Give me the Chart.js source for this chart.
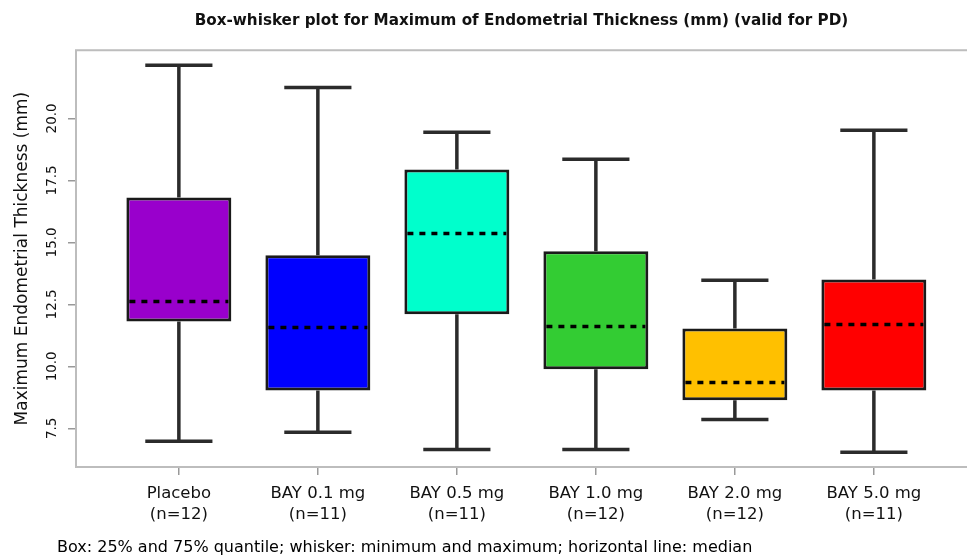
<!DOCTYPE html>
<html>
<head>
<meta charset="utf-8">
<script src="https://cdn.jsdelivr.net/npm/chart.js@4.4.1/dist/chart.umd.min.js"></script>
<style>
  html, body { margin: 0; padding: 0; background: #fff; }
  #wrap { width: 967px; height: 559px; }
</style>
</head>
<body>
<div id="wrap"><canvas id="boxChart" width="967" height="559"></canvas></div>
<script>
// Gruppen und Werte
const categories = ['Placebo', 'BAY 0.1 mg', 'BAY 0.5 mg', 'BAY 1.0 mg', 'BAY 2.0 mg', 'BAY 5.0 mg'];
const groupSizes = ['(n=12)', '(n=11)', '(n=11)', '(n=12)', '(n=12)', '(n=11)'];
const minimums = [6.98, 7.34, 6.65, 6.65, 7.86, 6.53];
const quartile1 = [11.81, 9.03, 12.10, 9.88, 8.63, 9.03];
const medians = [12.62, 11.57, 15.36, 11.61, 9.35, 11.69];
const quartile3 = [16.81, 14.48, 17.94, 14.64, 11.53, 13.50];
const maximums = [22.14, 21.25, 19.44, 18.35, 13.47, 19.52];
const boxColors = ['#9900CC', '#0000FF', '#00FFCC', '#33CC33', '#FFC000', '#FF0000'];
const yTicks = [7.5, 10.0, 12.5, 15.0, 17.5, 20.0];

const footnote = 'Box: 25% and 75% quantile; whisker: minimum and maximum; horizontal line: median';

// Whisker, Median, Rahmen und Fußnote zeichnen
const boxPlotExtras = {
    id: 'boxPlotExtras',
    afterDatasetsDraw(chart) {
        const { ctx, chartArea, scales: { x, y } } = chart;
        const bars = chart.getDatasetMeta(0).data;
        ctx.save();
        bars.forEach((bar, i) => {
            const cx = x.getPixelForValue(i + 1);
            const half = bar.width / 2;
            const cap = bar.width * 0.32;
            // Whisker
            ctx.strokeStyle = '#2b2b2b';
            ctx.lineWidth = 3.5;
            ctx.setLineDash([]);
            ctx.beginPath();
            ctx.moveTo(cx, y.getPixelForValue(quartile3[i]));
            ctx.lineTo(cx, y.getPixelForValue(maximums[i]));
            ctx.moveTo(cx, y.getPixelForValue(quartile1[i]));
            ctx.lineTo(cx, y.getPixelForValue(minimums[i]));
            ctx.moveTo(cx - cap, y.getPixelForValue(maximums[i]));
            ctx.lineTo(cx + cap, y.getPixelForValue(maximums[i]));
            ctx.moveTo(cx - cap, y.getPixelForValue(minimums[i]));
            ctx.lineTo(cx + cap, y.getPixelForValue(minimums[i]));
            ctx.stroke();
            // Median gestrichelt
            ctx.strokeStyle = '#000';
            ctx.lineWidth = 3.5;
            ctx.setLineDash([6, 6]);
            ctx.beginPath();
            const my = y.getPixelForValue(medians[i]);
            ctx.moveTo(cx - half + 3, my);
            ctx.lineTo(cx + half - 3, my);
            ctx.stroke();
        });
        // Rahmen
        ctx.setLineDash([]);
        ctx.strokeStyle = '#bdbdbd';
        ctx.lineWidth = 2;
        ctx.strokeRect(chartArea.left, chartArea.top, chartArea.right - chartArea.left + 10, chartArea.bottom - chartArea.top);
        // Fußnote
        ctx.fillStyle = '#000';
        ctx.font = '16px "DejaVu Sans"';
        ctx.textBaseline = 'middle';
        ctx.fillText(footnote, 57, 548);
        ctx.restore();
    }
};

const ctx = document.getElementById('boxChart').getContext('2d');
new Chart(ctx, {
    type: 'bar',
    data: {
        datasets: [{
            data: categories.map((c, i) => ({ x: i + 1, y: [quartile1[i], quartile3[i]] })),
            backgroundColor: boxColors,
            borderColor: '#1a1a1a',
            borderWidth: 3,
            borderSkipped: false,
            categoryPercentage: 1,
            barPercentage: 0.755
        }]
    },
    options: {
        responsive: false,
        animation: false,
        layout: { padding: 0 },
        plugins: {
            legend: { display: false },
            tooltip: { enabled: false },
            title: {
                display: true,
                fullSize: false,
                text: 'Box-whisker plot for Maximum of Endometrial Thickness (mm) (valid for PD)',
                color: '#111',
                font: { family: 'DejaVu Sans', size: 15.2, weight: 'bold', lineHeight: 1.2 },
                padding: { top: 12, bottom: 20 }
            }
        },
        scales: {
            x: {
                type: 'linear',
                offset: false,
                min: 0.26,
                max: 6.67,
                afterBuildTicks: (scale) => { scale.ticks = categories.map((c, i) => ({ value: i + 1 })); },
                afterFit: (scale) => { scale.height = 92; },
                ticks: {
                    callback: (value, index) => [categories[index], groupSizes[index]],
                    color: '#111',
                    font: { family: 'DejaVu Sans', size: 16.5, lineHeight: 1.3 },
                    padding: 8,
                    maxRotation: 0,
                    autoSkip: false
                },
                grid: { offset: false, drawOnChartArea: false, drawTicks: true, tickLength: 8, color: '#999', lineWidth: 1.5 },
                border: { display: false }
            },
            y: {
                min: 5.94,
                max: 22.75,
                afterBuildTicks: (scale) => { scale.ticks = yTicks.map(v => ({ value: v })); },
                afterFit: (scale) => { scale.width = 76; },
                ticks: {
                    callback: (value) => value.toFixed(1),
                    color: '#111',
                    font: { family: 'DejaVu Sans', size: 13.5 },
                    minRotation: 90,
                    maxRotation: 90,
                    crossAlign: 'center',
                    padding: 0
                },
                grid: { drawOnChartArea: false, drawTicks: true, tickLength: 8, color: '#999', lineWidth: 1.5 },
                border: { display: false },
                title: {
                    display: true,
                    text: 'Maximum Endometrial Thickness (mm)',
                    color: '#111',
                    font: { family: 'DejaVu Sans', size: 17 },
                    padding: { top: 12, bottom: 0 }
                }
            }
        }
    },
    plugins: [boxPlotExtras]
});
</script>
</body>
</html>
